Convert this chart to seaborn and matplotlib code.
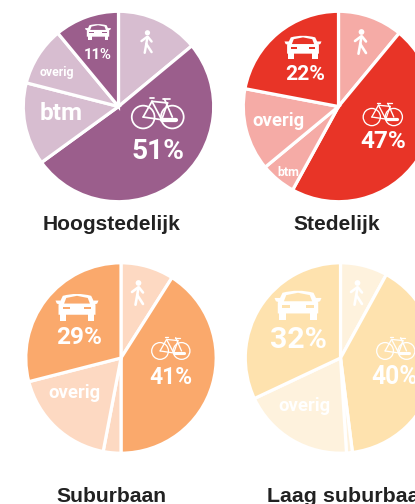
import matplotlib
matplotlib.use("Agg")
import matplotlib.pyplot as plt
import seaborn as sns
from matplotlib.patches import Circle, Polygon, PathPatch
from matplotlib.path import Path

sns.set_theme(style="white")
plt.rcParams['font.family'] = ['Liberation Sans', 'DejaVu Sans']

W, H = 415, 504
# clockwise from 12 o'clock: lopen, fiets, btm, overig, auto
modes = ["lopen", "fiets", "btm", "overig", "auto"]
regions = ["Hoogstedelijk", "Stedelijk", "Suburbaan", "Laag suburbaan"]
hoogstedelijk = [14, 51, 14, 10, 11]
stedelijk = [11, 47, 6, 14, 22]
suburbaan = [9, 41, 3, 18, 29]
laag_suburbaan = [8, 40, 1, 19, 32]
shares = [hoogstedelijk, stedelijk, suburbaan, laag_suburbaan]
dark = ["#9B5E8C", "#E83427", "#FAA96C", "#FEE2AE"]
light = ["#D7BDD0", "#F5ABA6", "#FDD9C2", "#FEF2DD"]

centers = [(118.5, 106.5), (338.5, 106.5), (121, 358), (340.5, 358)]
R = 95.2

fig = plt.figure(figsize=(W / 100, H / 100), dpi=100, facecolor="white")
for vals, c, d, l in zip(shares, centers, dark, light):
    side = 2.5 * R
    ax = fig.add_axes([(c[0] - side / 2) / W, 1 - (c[1] + side / 2) / H, side / W, side / H])
    ax.pie(vals, startangle=90, counterclock=False, radius=1,
           colors=[l, d, l, l, d],
           wedgeprops=dict(edgecolor="white", linewidth=2.3))
    ax.set_xlim(-1.25, 1.25)
    ax.set_ylim(-1.25, 1.25)

ov = fig.add_axes([0, 0, 1, 1], facecolor="none")
ov.set_xlim(0, W)
ov.set_ylim(H, 0)
ov.axis("off")
renderer = fig.canvas.get_renderer()


def fit_text(s, x, y, width, family="Roboto", color="white", ha="center", weight="bold"):
    t = ov.text(x, y, s, ha=ha, va="baseline", color=color, fontsize=10,
                family=family, weight=weight)
    w = t.get_window_extent(renderer).width
    t.set_fontsize(10 * width / w)
    return t


def car(x, y, w, bg):
    def P(pts):
        return [(x + a * w, y + b * w) for a, b in pts]
    verts = P([(-0.43, -0.05), (-0.33, -0.26), (0, -0.35), (0.33, -0.26), (0.43, -0.05),
               (0.43, 0.18), (-0.43, 0.18), (-0.43, -0.05)])
    codes = [Path.MOVETO, Path.LINETO, Path.CURVE3, Path.CURVE3, Path.LINETO,
             Path.LINETO, Path.LINETO, Path.CLOSEPOLY]
    ov.add_patch(PathPatch(Path(verts, codes), fc="white", ec="none"))
    for s in (-1, 1):
        ov.add_patch(Polygon(P([(s * 0.4, 0.1), (s * 0.25, 0.1), (s * 0.25, 0.32), (s * 0.4, 0.32)]), fc="white", ec="none"))
        ov.add_patch(Polygon(P([(s * 0.5, -0.15), (s * 0.38, -0.15), (s * 0.38, -0.05), (s * 0.47, -0.08)]), fc="white", ec="none"))
        ov.add_patch(Polygon(P([(s * 0.33, 0.0), (s * 0.17, 0.0), (s * 0.17, 0.055), (s * 0.33, 0.055)]), fc=bg, ec="none"))
    ws = P([(-0.3, -0.08), (-0.25, -0.21), (0, -0.26), (0.25, -0.21), (0.3, -0.08)])
    ov.add_patch(Polygon(ws, fc=bg, ec="none"))


def bike(x, y, w):
    lw = w * 0.033 * 0.72
    for cx in (-0.28, 0.27):
        ov.add_patch(Circle((x + cx * w, y + 0.076 * w), 0.215 * w, fc="none", ec="white", lw=lw))
    segs = [[(-0.28, 0.076), (-0.114, -0.22)], [(-0.114, -0.22), (0.07, 0.127)],
            [(-0.114, -0.22), (0.18, -0.19)], [(0.12, -0.266), (0.27, 0.076)],
            [(0.07, 0.127), (0.18, -0.19)], [(-0.28, 0.076), (0.07, 0.127)],
            [(-0.16, -0.28), (-0.07, -0.28)], [(0.1, -0.266), (0.23, -0.266)]]
    for seg in segs:
        ov.plot([x + a * w for a, _ in seg], [y + b * w for _, b in seg],
                color="white", lw=lw, solid_capstyle="round")
    ov.plot([x + 0.07 * w, x + 0.34 * w], [y + 0.127 * w] * 2, color="white",
            lw=w * 0.08 * 0.72, solid_capstyle="round")


def walker(x, y, h):
    lw = h * 0.105 * 0.72
    ov.add_patch(Circle((x + 0.02 * h, y - 0.4 * h), 0.115 * h, fc="white", ec="none"))
    for seg in [[(0.02, -0.22), (-0.03, 0.08)], [(0.0, -0.22), (-0.24, -0.04)],
                [(0.04, -0.22), (0.2, -0.02)], [(-0.03, 0.08), (-0.1, 0.47)],
                [(-0.03, 0.08), (0.2, 0.44)]]:
        ov.plot([x + a * h for a, _ in seg], [y + b * h for _, b in seg],
                color="white", lw=lw, solid_capstyle="round")


# lay-out per pie (pixel positions of labels and pictograms)
walker(147, 42, 23); walker(361, 42, 25); walker(138, 293, 25); walker(357, 293, 25)
car(98, 32, 26, dark[0]); car(303, 47, 37, dark[1]); car(77, 307, 43, dark[2]); car(298, 305, 47, dark[3])
bike(158, 113, 53); bike(383, 114, 40); bike(171, 348, 39); bike(396, 348, 39)

fit_text(f"{hoogstedelijk[4]}%", 98, 59, 28)
fit_text(f"{hoogstedelijk[1]}%", 158, 159, 53)
fit_text("btm", 61, 120, 43)
fit_text("overig", 57, 76, 35)
fit_text(f"{stedelijk[4]}%", 305, 80, 40)
fit_text(f"{stedelijk[1]}%", 383, 148, 46)
fit_text("overig", 278, 126, 52)
fit_text("btm", 288, 176, 22)
fit_text(f"{suburbaan[4]}%", 79, 344, 46)
fit_text(f"{suburbaan[1]}%", 171, 384, 43)
fit_text("overig", 74, 398, 52)
fit_text(f"{laag_suburbaan[4]}%", 298, 348, 57)
fit_text(f"{laag_suburbaan[1]}%", 395, 384, 46)
fit_text("overig", 304, 411, 52)

title_font = "Liberation Sans"
fit_text(regions[0], 111.5, 230, 138, family=title_font, color="#222222")
fit_text(regions[1], 337, 230, 87, family=title_font, color="#222222")
fit_text(regions[2], 111, 501.5, 110, family=title_font, color="#222222")
fit_text(regions[3], 267, 501.5, 165, family=title_font, color="#222222", ha="left")

fig.savefig("out.png", dpi=100)
